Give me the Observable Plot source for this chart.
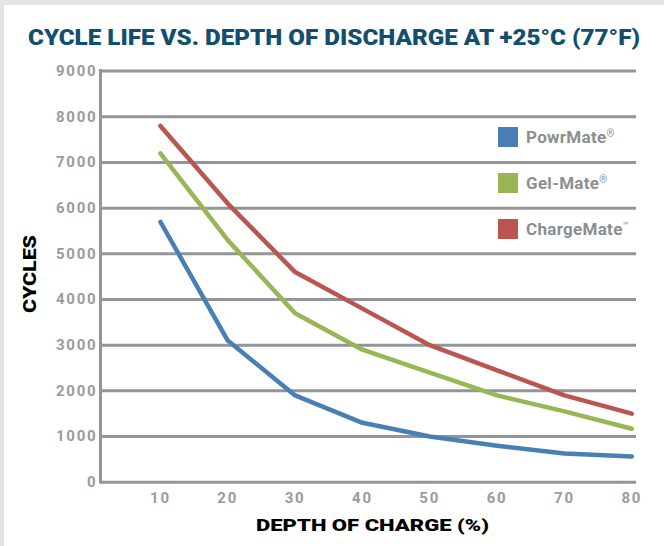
<!DOCTYPE html>
<html>
<head>
<meta charset="utf-8">
<script src="https://cdn.jsdelivr.net/npm/d3@7"></script>
<script src="https://cdn.jsdelivr.net/npm/@observablehq/plot@0.6"></script>
<style>
  html, body { margin: 0; padding: 0; width: 664px; height: 546px; overflow: hidden; background: #e2e5e4; font-family: Roboto, "Open Sans", sans-serif; }
  #panel { position: absolute; left: 4px; top: 5px; width: 660px; height: 541px; background: #fff; }
  #title { position: absolute; left: 28px; top: 24px; font-size: 22px; font-weight: 900; color: #124e6e; white-space: nowrap; transform-origin: 0 50%; line-height: 28px; }
  #chart { position: absolute; left: 0; top: 56px; }
  .axt { position: absolute; font-weight: 900; color: #000; white-space: nowrap; font-size: 17px; line-height: 20px; }
  #xlabel { left: 256px; top: 515px; transform-origin: 0 50%; }
  #ylabel { left: 30px; top: 274px; font-size: 18px; }
  #legend { position: absolute; left: 498px; top: 127px; }
  .item { display: flex; align-items: center; height: 20px; margin-bottom: 26px; }
  .sw { width: 20px; height: 20px; margin-right: 8px; }
  .lt { font-size: 17px; font-weight: 700; color: #8d8e90; white-space: nowrap; letter-spacing: 0.3px; }
  .lt sup { font-size: 10px; font-weight: 400; vertical-align: 6px; }
  g[aria-label$="tick label"] text { letter-spacing: 1.8px; }
</style>
</head>
<body>
<div id="panel"></div>
<div id="title">CYCLE LIFE VS. DEPTH OF DISCHARGE AT +25°C (77°F)</div>
<div id="chart"></div>
<div id="ylabel" class="axt">CYCLES</div>
<div id="xlabel" class="axt">DEPTH OF CHARGE (%)</div>
<div id="legend"></div>
<script>
// ---- data ----
const depth = [10, 20, 30, 40, 50, 60, 70, 80];
const powrMate   = [5700, 3100, 1900, 1300, 1000, 800, 630, 560];
const gelMate    = [7200, 5300, 3700, 2900, 2400, 1900, 1550, 1170];
const chargeMate = [7800, 6100, 4600, 3800, 3000, 2450, 1900, 1500];
const seriesNames = ["PowrMate", "Gel-Mate", "ChargeMate"];
const seriesMarks = ["®", "®", "™"];
const seriesColors = ["#4a7fb6", "#98b654", "#bb5550"];
const yTicks = [0, 1000, 2000, 3000, 4000, 5000, 6000, 7000, 8000, 9000];
const xTicks = [10, 20, 30, 40, 50, 60, 70, 80];
const xDomain = [1.1, 80.7];
const yDomain = [0, 9000];

const allSeries = [powrMate, gelMate, chargeMate];
const rows = [];
allSeries.forEach((vals, i) => vals.forEach((v, j) => rows.push({series: seriesNames[i], depth: depth[j], cycles: v})));

const gridColor = "#939598";
const tickColor = "#9a9b9d";

const chart = Plot.plot({
  width: 664,
  height: 490,
  marginLeft: 100,
  marginRight: 28,
  marginTop: 14.6,
  marginBottom: 64.3,
  style: { background: "transparent", fontFamily: "Roboto, sans-serif", overflow: "visible" },
  x: { domain: xDomain },
  y: { domain: yDomain },
  color: { domain: seriesNames, range: seriesColors },
  marks: [
    Plot.ruleY(yTicks, { stroke: gridColor, strokeWidth: 3 }),
    Plot.ruleX([xDomain[0]], { y1: yDomain[0], y2: yDomain[1], stroke: gridColor, strokeWidth: 3, strokeLinecap: "square" }),
    Plot.axisY({ ticks: yTicks, tickSize: 0, tickPadding: 3, tickFormat: d => String(d), fontSize: 15, fontWeight: "bold", fill: tickColor, label: null }),
    Plot.axisX({ ticks: xTicks, tickSize: 0, tickPadding: 10, tickFormat: d => String(d), fontSize: 15, fontWeight: "bold", fill: tickColor, label: null }),
    Plot.line(rows, { x: "depth", y: "cycles", z: "series", stroke: "series", strokeWidth: 4.5, strokeLinecap: "round", strokeLinejoin: "round" })
  ]
});
document.getElementById("chart").appendChild(chart);

// legend
const legend = document.getElementById("legend");
seriesNames.forEach((name, i) => {
  const item = document.createElement("div");
  item.className = "item";
  item.innerHTML = `<div class="sw" style="background:${seriesColors[i]}"></div><span class="lt">${name}<sup>${seriesMarks[i]}</sup></span>`;
  legend.appendChild(item);
});

// fit texts to reference widths
function fit(el, w, extra) {
  const cur = el.getBoundingClientRect().width;
  el.style.transform = (extra || "") + ` scaleX(${w / cur})`;
}
fit(document.getElementById("title"), 612);
fit(document.getElementById("xlabel"), 233);
fit(document.getElementById("ylabel"), 78, "translate(-50%, -50%) rotate(-90deg)");
</script>
</body>
</html>
